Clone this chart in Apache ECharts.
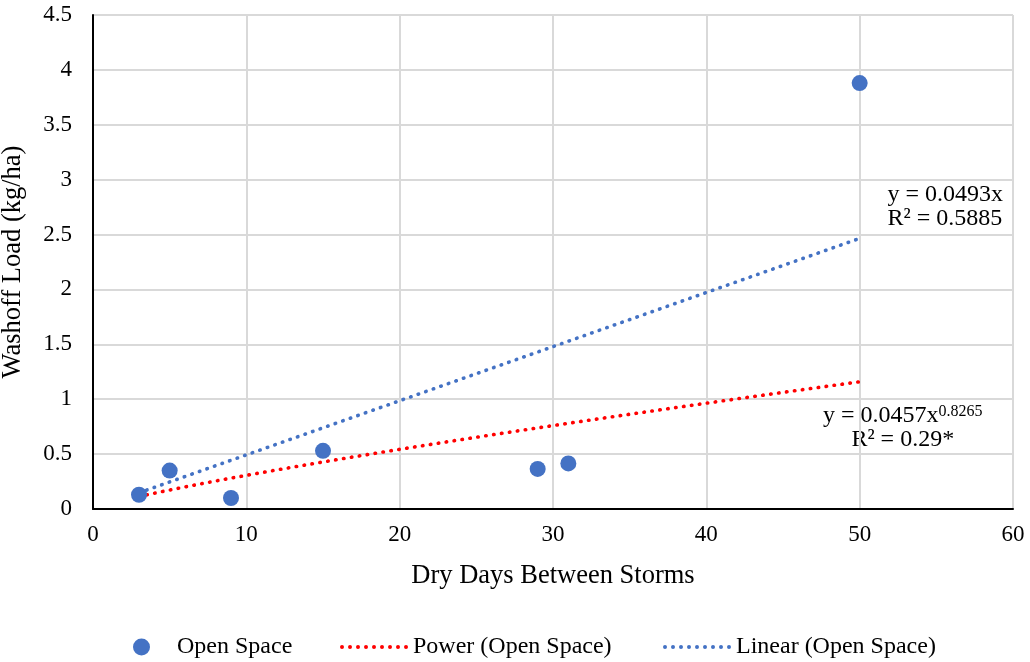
<!DOCTYPE html>
<html>
<head>
<meta charset="utf-8">
<script src="https://cdn.jsdelivr.net/npm/echarts@6/dist/echarts.min.js"></script>
<style>
  html, body { margin: 0; padding: 0; background: #fff; }
  #chart { width: 1030px; height: 662px; }
</style>
</head>
<body>
<div id="chart"></div>
<script>
// Observed washoff loads for the open-space catchment
const dryDays = [3, 5, 9, 15, 29, 31, 50];
const washoffLoad = [0.13, 0.35, 0.10, 0.53, 0.365, 0.415, 3.88];

// Fitted trendlines (coefficients as reported in the equations)
const linearSlope = 0.0493;
const powerCoef = 0.0457;
const powerExp = 0.8265;
const fitStart = 3;
const fitEnd = 50;

const FONT = '"Liberation Serif", "Times New Roman", serif';
const BLUE = '#4472C4';
const RED = '#FF0000';

const linearLine = [fitStart, fitEnd].map(x => [x, linearSlope * x]);
const powerLine = [];
for (let x = fitStart; x <= fitEnd; x += 0.5) {
  powerLine.push([x, powerCoef * Math.pow(x, powerExp)]);
}

// Dotted-line legend icon: a row of small round dots
function dottedIcon(count) {
  let d = '';
  for (let i = 0; i < count; i++) {
    const cx = 2 + i * 8;
    d += 'M' + (cx - 2) + ',2a2,2 0 1,0 4,0a2,2 0 1,0 -4,0z';
  }
  return 'path://' + d;
}

const chart = echarts.init(document.getElementById('chart'), null, { renderer: 'canvas' });

const legendText = { fontFamily: FONT, fontSize: 24, color: '#000' };
const DOT_LINE = { width: 3.6, type: [0.5, 7.5], cap: 'round' };
const LEGEND_TOP = 630;

chart.setOption({
  animation: false,
  backgroundColor: '#fff',
  grid: { left: 93, right: 17, top: 15, bottom: 153, containLabel: false, outerBoundsMode: 'none' },
  xAxis: {
    type: 'value', min: 0, max: 60, interval: 10,
    name: 'Dry Days Between Storms',
    nameLocation: 'middle', nameGap: 54,
    nameTextStyle: { fontFamily: FONT, fontSize: 26.5, color: '#000' },
    axisLine: { show: true, onZero: false, lineStyle: { color: '#000', width: 2 } },
    axisTick: { show: false },
    axisLabel: { fontFamily: FONT, fontSize: 23, color: '#000', margin: 14 },
    splitLine: { show: true, lineStyle: { color: '#d9d9d9', width: 2 } }
  },
  yAxis: {
    type: 'value', min: 0, max: 4.5, interval: 0.5,
    name: 'Washoff Load (kg/ha)',
    nameLocation: 'middle', nameGap: 66, nameRotate: 90,
    nameTextStyle: { fontFamily: FONT, fontSize: 26.5, color: '#000' },
    axisLine: { show: true, onZero: false, lineStyle: { color: '#000', width: 2 } },
    axisTick: { show: false },
    axisLabel: { fontFamily: FONT, fontSize: 23, color: '#000', margin: 21 },
    splitLine: { show: true, lineStyle: { color: '#d9d9d9', width: 2 } }
  },
  legend: [
    {
      left: 128, top: LEGEND_TOP, selectedMode: false, itemGap: 0,
      itemWidth: 17, itemHeight: 17,
      data: [{ name: 'Open Space', icon: 'circle' }],
      textStyle: Object.assign({ padding: [0, 0, 0, 22] }, legendText)
    },
    {
      left: 335, top: LEGEND_TOP, selectedMode: false, itemGap: 0,
      itemWidth: 68, itemHeight: 4,
      data: [{ name: 'Power (Open Space)', icon: dottedIcon(9) }],
      textStyle: Object.assign({ padding: [0, 0, 0, 0] }, legendText)
    },
    {
      left: 658, top: LEGEND_TOP, selectedMode: false, itemGap: 0,
      itemWidth: 68, itemHeight: 4,
      data: [{ name: 'Linear (Open Space)', icon: dottedIcon(9) }],
      textStyle: Object.assign({ padding: [0, 0, 0, 0] }, legendText)
    }
  ],
  series: [
    {
      name: 'Power (Open Space)',
      type: 'line',
      data: powerLine,
      showSymbol: false, symbol: 'none',
      lineStyle: Object.assign({ color: RED }, DOT_LINE),
      itemStyle: { color: RED },
      z: 2
    },
    {
      name: 'Linear (Open Space)',
      type: 'line',
      data: linearLine,
      showSymbol: false, symbol: 'none',
      lineStyle: Object.assign({ color: BLUE }, DOT_LINE),
      itemStyle: { color: BLUE },
      z: 2
    },
    {
      name: 'Open Space',
      type: 'scatter',
      data: dryDays.map((d, i) => [d, washoffLoad[i]]),
      symbol: 'circle', symbolSize: 16,
      itemStyle: { color: BLUE, opacity: 1 },
      z: 3
    }
  ],
  graphic: [
    {
      type: 'text', right: 27, top: 183,
      style: {
        text: 'y = 0.0493x\nR² = 0.5885',
        fontFamily: FONT, fontSize: 24, lineHeight: 24, fill: '#000', align: 'right'
      }
    },
    {
      type: 'text', left: 823, top: 404,
      style: {
        text: '{a|y = 0.0457x}{s|0.8265}\n{b|R² = 0.29*}',
        fontFamily: FONT, fill: '#000', align: 'center',
        rich: {
          a: { fontFamily: FONT, fontSize: 24, lineHeight: 24, verticalAlign: 'middle', align: 'center' },
          s: { fontFamily: FONT, fontSize: 16, lineHeight: 12, verticalAlign: 'top', align: 'center' },
          b: { fontFamily: FONT, fontSize: 24, lineHeight: 23, align: 'center' }
        }
      }
    }
  ]
});
</script>
</body>
</html>
